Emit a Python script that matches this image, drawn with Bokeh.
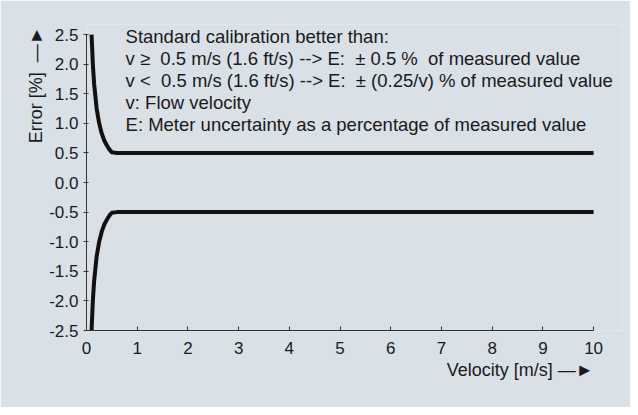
from bokeh.plotting import figure
from bokeh.models import Range1d, FixedTicker, PrintfTickFormatter, Label, Title
from bokeh.embed import file_html
from bokeh.resources import INLINE

# Data
velocity = [0.1, 0.125, 0.15, 0.2, 0.25, 0.3, 0.35, 0.4, 0.45, 0.5, 0.6, 10.0]
error_upper = [2.5, 2.0, 1.67, 1.25, 1.0, 0.83, 0.71, 0.63, 0.56, 0.51, 0.5, 0.5]
error_lower = [-2.5, -2.0, -1.67, -1.25, -1.0, -0.83, -0.71, -0.63, -0.56, -0.51, -0.5, -0.5]
x_ticks = [0, 1, 2, 3, 4, 5, 6, 7, 8, 9, 10]
y_ticks = [-2.5, -2.0, -1.5, -1.0, -0.5, 0.0, 0.5, 1.0, 1.5, 2.0, 2.5]
NB = "\u00a0"
notes = [
    "Standard calibration better than:",
    "v \u2265" + NB + " 0.5 m/s (1.6 ft/s) --> E:" + NB + " \u00b1 0.5 %" + NB + " of measured value",
    "v <" + NB + " 0.5 m/s (1.6 ft/s) --> E:" + NB + " \u00b1 (0.25/v) % of measured value",
    "v: Flow velocity",
    "E: Meter uncertainty as a percentage of measured value",
]
x_title = "Velocity [m/s] \u2014\u25ba"
y_title = "Error [%]" + NB + " \u2014\u25ba"

BG = "#d9e0e6"
FONT = "Liberation Sans"
TXT = "#1a1a1a"

p = figure(width=630, height=407, output_backend="svg", toolbar_location=None,
           x_range=Range1d(0, 10.57), y_range=Range1d(-2.5, 2.67),
           min_border_left=86, min_border_right=8, min_border_top=24, min_border_bottom=77)
p.background_fill_color = BG
p.border_fill_color = BG
p.outline_line_color = None
p.grid.visible = False

for ax in (p.xaxis[0], p.yaxis[0]):
    ax.axis_line_color = "#333333"
    ax.major_tick_line_color = "#333333"
    ax.minor_tick_line_color = None
    ax.major_label_text_font = FONT
    ax.major_label_text_font_size = "17px"
    ax.major_label_text_color = TXT

p.xaxis.ticker = FixedTicker(ticks=x_ticks)
p.xaxis.bounds = (0, 10)
p.xaxis.major_tick_in = 4
p.xaxis.major_tick_out = 0
p.xaxis.major_label_standoff = 11
p.yaxis.ticker = FixedTicker(ticks=y_ticks)
p.yaxis.bounds = (-2.5, 2.5)
p.yaxis.formatter = PrintfTickFormatter(format="%.1f")
p.yaxis.major_tick_in = 2
p.yaxis.major_tick_out = 3
p.yaxis.major_label_standoff = 5

p.line(velocity, error_upper, line_width=4, line_color="#111111", line_join="round")
p.line(velocity, error_lower, line_width=4, line_color="#111111", line_join="round")

# notes block
for i, t in enumerate(notes):
    p.add_layout(Label(x=0.77, y=2.46, y_offset=-22 * i, text=t, text_font=FONT,
                       text_font_size="18.5px", text_color=TXT, text_baseline="middle",
                       text_align="left"))

p.add_layout(Title(text=x_title, align="right", offset=29, text_font=FONT, text_font_size="18px",
                   text_font_style="normal", text_color=TXT, standoff=3), "below")
p.add_layout(Title(text=y_title, align="right", offset=2, text_font=FONT, text_font_size="18px",
                   text_font_style="normal", text_color=TXT, standoff=2), "left")

open("out.html", "w").write(file_html(p, INLINE))
